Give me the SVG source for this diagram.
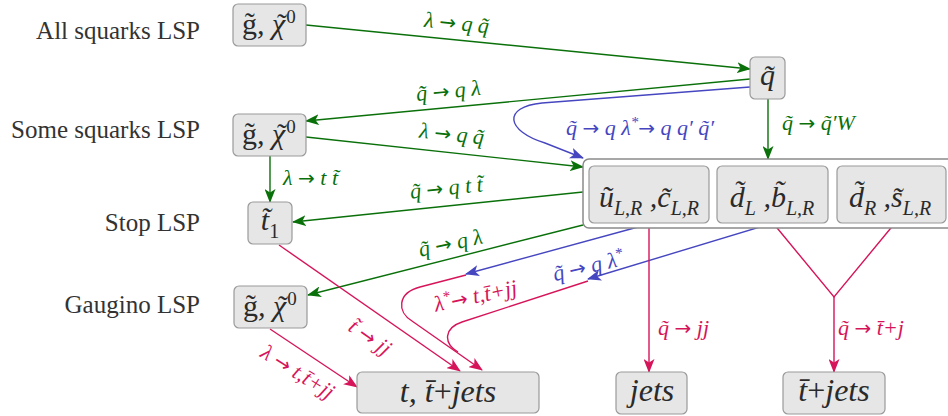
<svg xmlns="http://www.w3.org/2000/svg" width="948" height="416" viewBox="0 0 948 416">
<defs>
<style>
.lsp{font-family:"Liberation Serif","DejaVu Serif",serif;font-size:25px;fill:#333;text-anchor:end}
.m{font-family:"Liberation Serif","DejaVu Serif",serif;font-style:italic;fill:#2a2a2a;text-anchor:middle}
.gx{font-family:"Liberation Serif","DejaVu Serif",serif;font-style:italic;fill:#2a2a2a;font-size:30px}
.up{font-style:normal}
.lbl{font-family:"Liberation Serif","DejaVu Serif",serif;font-style:italic;font-size:22px;text-anchor:middle}
.ar2{font-family:"DejaVu Sans",sans-serif;font-style:normal;font-size:20px}
.ls{text-anchor:start}
.tg{fill:#0a700a}.tb{fill:#4646c0}.tr{fill:#d6145a}
.box{fill:#e6e6e6;stroke:#9a9a9a;stroke-width:1.2}
.cont{fill:#fff;stroke:#8a8a8a;stroke-width:1.5}
.cg{fill:none;stroke:#0a700a;stroke-width:1.4}
.cb{fill:none;stroke:#4646c0;stroke-width:1.4}
.cr{fill:none;stroke:#d6145a;stroke-width:1.4}
.ag{marker-end:url(#ag)}.ab{marker-end:url(#ab)}.arr{marker-end:url(#ar)}
</style>
<marker id="ag" viewBox="0 0 14 11" refX="13" refY="5.5" markerWidth="14" markerHeight="11" markerUnits="userSpaceOnUse" orient="auto"><path d="M0,0 L14,5.5 L0,11 L3.5,5.5 z" fill="#0a700a"/></marker>
<marker id="ab" viewBox="0 0 14 11" refX="13" refY="5.5" markerWidth="14" markerHeight="11" markerUnits="userSpaceOnUse" orient="auto"><path d="M0,0 L14,5.5 L0,11 L3.5,5.5 z" fill="#4646c0"/></marker>
<marker id="ar" viewBox="0 0 14 11" refX="13" refY="5.5" markerWidth="14" markerHeight="11" markerUnits="userSpaceOnUse" orient="auto"><path d="M0,0 L14,5.5 L0,11 L3.5,5.5 z" fill="#d6145a"/></marker>
</defs>

<g id="row-labels">
<text class="lsp" x="200" y="39">All squarks LSP</text>
<text class="lsp" x="200" y="138">Some squarks LSP</text>
<text class="lsp" x="200" y="231">Stop LSP</text>
<text class="lsp" x="200" y="313">Gaugino LSP</text>
</g>

<g id="connectors">
<path class="cg ag" d="M306,25 L750,69"/>
<path class="cg ag" d="M750,79 L306,121"/>
<path class="cg ag" d="M306,137 L583,167"/>
<path class="cg ag" d="M768,99 L768,159"/>
<path class="cg ag" d="M270,156 L270,202"/>
<path class="cg ag" d="M583,192 L293,222"/>
<path class="cg ag" d="M583,225 L308,295"/>
<path class="cb ab" d="M750,87 L542,103 C502,107 506,131 545,143 L583,158"/>
<path class="cb ab" d="M649,224 L466,274"/>
<path class="cb ab" d="M773,223 L588,279"/>
<path class="cr arr" d="M466,275 L420,287 C397,293 397,312 412,321 L482,370"/>
<path class="cr" d="M588,281 L462,322 C444,328 443,343 458,352"/>
<path class="cr arr" d="M649,224 L649,372"/>
<path class="cr" d="M773,223 L834,297 L895,223"/>
<path class="cr arr" d="M834,297 L834,372"/>
<path class="cr arr" d="M279,245 L460,371"/>
<path class="cr arr" d="M270,329 L357,387"/>

<text class="lbl tg" transform="translate(456,30) rotate(5.8)">λ <tspan class="ar2">→</tspan> q q̃</text>
<text class="lbl tg" transform="translate(449,98) rotate(-5.4)">q̃ <tspan class="ar2">→</tspan> q λ</text>
<text class="lbl tg" transform="translate(451,141) rotate(6.2)">λ <tspan class="ar2">→</tspan> q q̃</text>
<text class="lbl tb" x="640" y="135">q̃ <tspan class="ar2">→</tspan> q λ<tspan font-size="15" dy="-8">*</tspan><tspan class="ar2" dy="8">→</tspan> q q′ q̃′</text>
<text class="lbl tg ls" x="782" y="130">q̃ <tspan class="ar2">→</tspan> q̃′W</text>
<text class="lbl tg ls" x="283" y="185">λ <tspan class="ar2">→</tspan> t t̃</text>
<text class="lbl tg" transform="translate(447,195) rotate(-5.9)">q̃ <tspan class="ar2">→</tspan> q t t̃</text>
<text class="lbl tg" transform="translate(452,250) rotate(-12)">q̃ <tspan class="ar2">→</tspan> q λ</text>
<text class="lbl tb" transform="translate(590,273) rotate(-13)">q̃ <tspan class="ar2">→</tspan> q λ<tspan font-size="15" dy="-8">*</tspan></text>
<text class="lbl tr" transform="translate(477,303) rotate(-12)">λ<tspan font-size="15" dy="-8">*</tspan><tspan class="ar2" dy="8">→</tspan> t,t̄+jj</text>
<text class="lbl tr ls" x="658" y="335">q̃ <tspan class="ar2">→</tspan> jj</text>
<text class="lbl tr ls" x="838" y="335">q̃ <tspan class="ar2">→</tspan> t̄+j</text>
<text class="lbl tr" transform="translate(366,343) rotate(35)">t̃ <tspan class="ar2">→</tspan> jj</text>
<text class="lbl tr" transform="translate(294,378) rotate(32)">λ <tspan class="ar2">→</tspan> t,t̄+jj</text>
</g>

<g id="n-all-gx">
<rect class="box" x="233" y="4" width="73" height="42" rx="5"/>
<text class="gx" x="242" y="34"><tspan class="up">g̃</tspan>, χ<tspan class="up" font-size="19" dx="1" dy="-11">0</tspan><tspan class="up" x="277" y="34">˜</tspan></text>
</g>
<g id="n-some-gx">
<rect class="box" x="233" y="114" width="73" height="42" rx="5"/>
<text class="gx" x="242" y="144"><tspan class="up">g̃</tspan>, χ<tspan class="up" font-size="19" dx="1" dy="-11">0</tspan><tspan class="up" x="277" y="144">˜</tspan></text>
</g>
<g id="n-gaug-gx">
<rect class="box" x="234" y="286" width="73" height="42" rx="5"/>
<text class="gx" x="243" y="316"><tspan class="up">g̃</tspan>, χ<tspan class="up" font-size="19" dx="1" dy="-11">0</tspan><tspan class="up" x="278" y="316">˜</tspan></text>
</g>
<g id="n-q">
<rect class="box" x="750" y="57" width="35" height="42" rx="5"/>
<text class="m" x="767.5" y="85" font-size="30">q̃</text>
</g>
<g id="n-t1">
<rect class="box" x="248" y="202" width="44" height="42" rx="5"/>
<text class="m" x="270" y="230" font-size="30">t̃<tspan class="up" font-size="20" dy="8">1</tspan></text>
</g>
<g id="n-squarks">
<rect class="cont" x="583" y="159" width="380" height="69" rx="6"/>
<g id="n-uc">
<rect class="box" x="589" y="166" width="120" height="57" rx="5"/>
<text class="m" x="649" y="207" font-size="30">ũ<tspan font-size="20" dy="8">L,R</tspan><tspan dy="-8"> ,c̃</tspan><tspan font-size="20" dy="8">L,R</tspan></text>
</g>
<g id="n-db">
<rect class="box" x="717" y="166" width="111" height="57" rx="5"/>
<text class="m" x="772" y="207" font-size="30">d̃<tspan font-size="20" dy="8">L</tspan><tspan dy="-8"> ,b̃</tspan><tspan font-size="20" dy="8">L,R</tspan></text>
</g>
<g id="n-ds">
<rect class="box" x="837" y="166" width="109" height="57" rx="5"/>
<text class="m" x="890" y="207" font-size="30">d̃<tspan font-size="20" dy="8">R</tspan><tspan dy="-8"> ,s̃</tspan><tspan font-size="20" dy="8">L,R</tspan></text>
</g>
</g>
<g id="n-ttjets">
<rect class="box" x="357" y="372" width="182" height="41" rx="5"/>
<text class="m" x="448" y="402" font-size="32">t, t̄<tspan class="up">+</tspan>jets</text>
</g>
<g id="n-jets">
<rect class="box" x="616" y="372" width="71" height="42" rx="5"/>
<text class="m" x="652" y="401" font-size="32">jets</text>
</g>
<g id="n-tbarjets">
<rect class="box" x="783" y="372" width="102" height="42" rx="5"/>
<text class="m" x="834" y="401" font-size="32">t̄<tspan class="up">+</tspan>jets</text>
</g>
</svg>
